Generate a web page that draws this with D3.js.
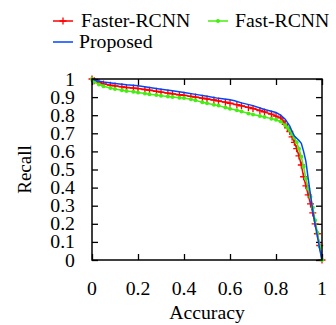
<!DOCTYPE html>
<html>
<head>
<meta charset="utf-8">
<script src="https://cdn.jsdelivr.net/npm/d3@7"></script>
<style>
  body { margin: 0; background: #fff; }
</style>
</head>
<body>
<svg id="chart" width="336" height="325" font-family="'Liberation Serif', 'DejaVu Serif', serif" font-size="19"></svg>
<script>
const xTicks = [0, 0.2, 0.4, 0.6, 0.8, 1];
const yTicks = [0, 0.1, 0.2, 0.3, 0.4, 0.5, 0.6, 0.7, 0.8, 0.9, 1];

const fasterAcc = [0, 0.01, 0.03, 0.05, 0.08, 0.1, 0.13, 0.15, 0.18, 0.2, 0.23, 0.25, 0.28, 0.3, 0.33, 0.35, 0.38, 0.4, 0.43, 0.45, 0.48, 0.5, 0.53, 0.55, 0.58, 0.6, 0.63, 0.65, 0.68, 0.7, 0.73, 0.75, 0.78, 0.8, 0.82, 0.83, 0.84, 0.85, 0.86, 0.87, 0.88, 0.89, 0.9, 0.91, 0.92, 0.93, 0.94, 0.95, 0.96, 0.97, 0.98, 0.99, 1];
const fasterRec = [1, 0.99, 0.98, 0.973, 0.966, 0.962, 0.957, 0.953, 0.95, 0.947, 0.942, 0.938, 0.932, 0.928, 0.922, 0.918, 0.913, 0.91, 0.904, 0.9, 0.894, 0.89, 0.884, 0.879, 0.872, 0.866, 0.858, 0.852, 0.843, 0.837, 0.826, 0.818, 0.806, 0.795, 0.785, 0.768, 0.75, 0.73, 0.71, 0.68, 0.65, 0.615, 0.575, 0.525, 0.46, 0.41, 0.36, 0.31, 0.26, 0.2, 0.145, 0.08, 0];

const fastAcc = [0, 0.01, 0.03, 0.05, 0.08, 0.1, 0.13, 0.15, 0.18, 0.2, 0.23, 0.25, 0.28, 0.3, 0.33, 0.35, 0.38, 0.4, 0.43, 0.45, 0.48, 0.5, 0.53, 0.55, 0.58, 0.6, 0.63, 0.65, 0.68, 0.7, 0.73, 0.75, 0.78, 0.8, 0.82, 0.84, 0.85, 0.86, 0.87, 0.88, 0.89, 0.9, 0.91, 0.92, 0.93, 0.94, 0.95, 0.96, 0.97, 0.98, 0.99, 1];
const fastRec = [1, 0.985, 0.97, 0.96, 0.95, 0.945, 0.938, 0.934, 0.929, 0.926, 0.92, 0.916, 0.911, 0.908, 0.903, 0.9, 0.897, 0.895, 0.888, 0.882, 0.872, 0.866, 0.858, 0.853, 0.843, 0.836, 0.827, 0.82, 0.81, 0.804, 0.796, 0.79, 0.781, 0.775, 0.765, 0.745, 0.73, 0.715, 0.695, 0.675, 0.65, 0.615, 0.57, 0.515, 0.45, 0.395, 0.35, 0.29, 0.22, 0.15, 0.075, 0];

const propAcc = [0, 0.02, 0.05, 0.1, 0.15, 0.2, 0.25, 0.3, 0.35, 0.4, 0.45, 0.5, 0.55, 0.6, 0.62, 0.65, 0.7, 0.75, 0.8, 0.82, 0.84, 0.86, 0.87, 0.88, 0.9, 0.91, 0.92, 0.93, 0.94, 0.95, 0.96, 0.97, 0.98, 0.99, 1];
const propRec = [1, 0.99, 0.983, 0.975, 0.968, 0.963, 0.953, 0.944, 0.935, 0.926, 0.915, 0.905, 0.893, 0.885, 0.88, 0.868, 0.853, 0.832, 0.815, 0.8, 0.778, 0.74, 0.71, 0.685, 0.66, 0.645, 0.6, 0.545, 0.45, 0.36, 0.27, 0.2, 0.13, 0.06, 0];

const series = [
  { name: "Faster-RCNN", acc: fasterAcc, rec: fasterRec, color: "#ff0000", mark: "plus" },
  { name: "Fast-RCNN", acc: fastAcc, rec: fastRec, color: "#44ee11", mark: "dot" },
  { name: "Proposed", acc: propAcc, rec: propRec, color: "#0044ff", mark: null }
];

const plotL = 92, plotR = 322, plotT = 79, plotB = 260;
const stretch = 1.04; // reference type runs a little wider than Liberation Serif
const svg = d3.select("#chart");

const x = d3.scaleLinear().domain([0, 1]).range([plotL, plotR]);
const y = d3.scaleLinear().domain([0, 1]).range([plotB, plotT]);

// horizontal text with a slight stretch
const label = (g, tx, ty, str, anchor) =>
  g.append("text")
    .attr("transform", `translate(${tx},${ty}) scale(${stretch},1)`)
    .attr("text-anchor", anchor || "start")
    .text(str);

// ticks, inward on all four sides (mirrored)
const noDomain = g => g.select(".domain").remove();
svg.append("g").attr("transform", `translate(0,${plotB})`)
  .call(d3.axisBottom(x).tickValues(xTicks).tickSize(-6).tickFormat("")).call(noDomain);
svg.append("g").attr("transform", `translate(0,${plotT})`)
  .call(d3.axisTop(x).tickValues(xTicks).tickSize(-6).tickFormat("")).call(noDomain);
svg.append("g").attr("transform", `translate(${plotL},0)`)
  .call(d3.axisLeft(y).tickValues(yTicks).tickSize(-6).tickFormat("")).call(noDomain);
svg.append("g").attr("transform", `translate(${plotR},0)`)
  .call(d3.axisRight(y).tickValues(yTicks).tickSize(-6).tickFormat("")).call(noDomain);
svg.selectAll(".tick line").attr("stroke", "#000").attr("stroke-width", 1.3);

// tick labels
const fmt = d3.format("~g");
const tickText = svg.append("g");
xTicks.forEach(d => label(tickText, x(d), 295, fmt(d), "middle"));
yTicks.forEach(d => label(tickText, 75, y(d) + 6.5, fmt(d), "end"));

label(svg, (plotL + plotR) / 2, 319, "Accuracy", "middle");
svg.append("text")
  .attr("transform", `translate(31,${(plotT + plotB) / 2}) rotate(-90)`)
  .attr("text-anchor", "middle")
  .text("Recall");

// curves
const line = d3.line().x(d => x(d[0])).y(d => y(d[1]));

function drawMark(g, s, cx, cy) {
  if (s.mark === "plus") {
    g.append("path")
      .attr("d", `M${cx - 3.5},${cy}H${cx + 3.5}M${cx},${cy - 3.5}V${cy + 3.5}`)
      .attr("stroke", s.color).attr("stroke-width", 1.3).attr("fill", "none");
  } else if (s.mark === "dot") {
    g.append("circle").attr("cx", cx).attr("cy", cy).attr("r", 2)
      .attr("fill", s.color);
  }
}

series.forEach(s => {
  const pts = s.acc.map((a, i) => [a, s.rec[i]]);
  const g = svg.append("g");
  g.append("path").datum(pts)
    .attr("d", line)
    .attr("fill", "none")
    .attr("stroke", s.color)
    .attr("stroke-width", 1.5);
  pts.forEach(p => drawMark(g, s, x(p[0]), y(p[1])));
});

// border box
svg.append("rect")
  .attr("x", plotL).attr("y", plotT)
  .attr("width", plotR - plotL).attr("height", plotB - plotT)
  .attr("fill", "none").attr("stroke", "#000").attr("stroke-width", 1.5);

// legend
const legendPos = [
  { lx: 53, ly: 21, tx: 81, ty: 27 },
  { lx: 208, ly: 21, tx: 235, ty: 27 },
  { lx: 53, ly: 42, tx: 79, ty: 48 }
];
series.forEach((s, i) => {
  const p = legendPos[i];
  const g = svg.append("g");
  g.append("line").attr("x1", p.lx).attr("x2", p.lx + 20)
    .attr("y1", p.ly).attr("y2", p.ly)
    .attr("stroke", s.color).attr("stroke-width", 1.5);
  drawMark(g, s, p.lx + 10, p.ly);
  label(g, p.tx, p.ty, s.name);
});
</script>
</body>
</html>
